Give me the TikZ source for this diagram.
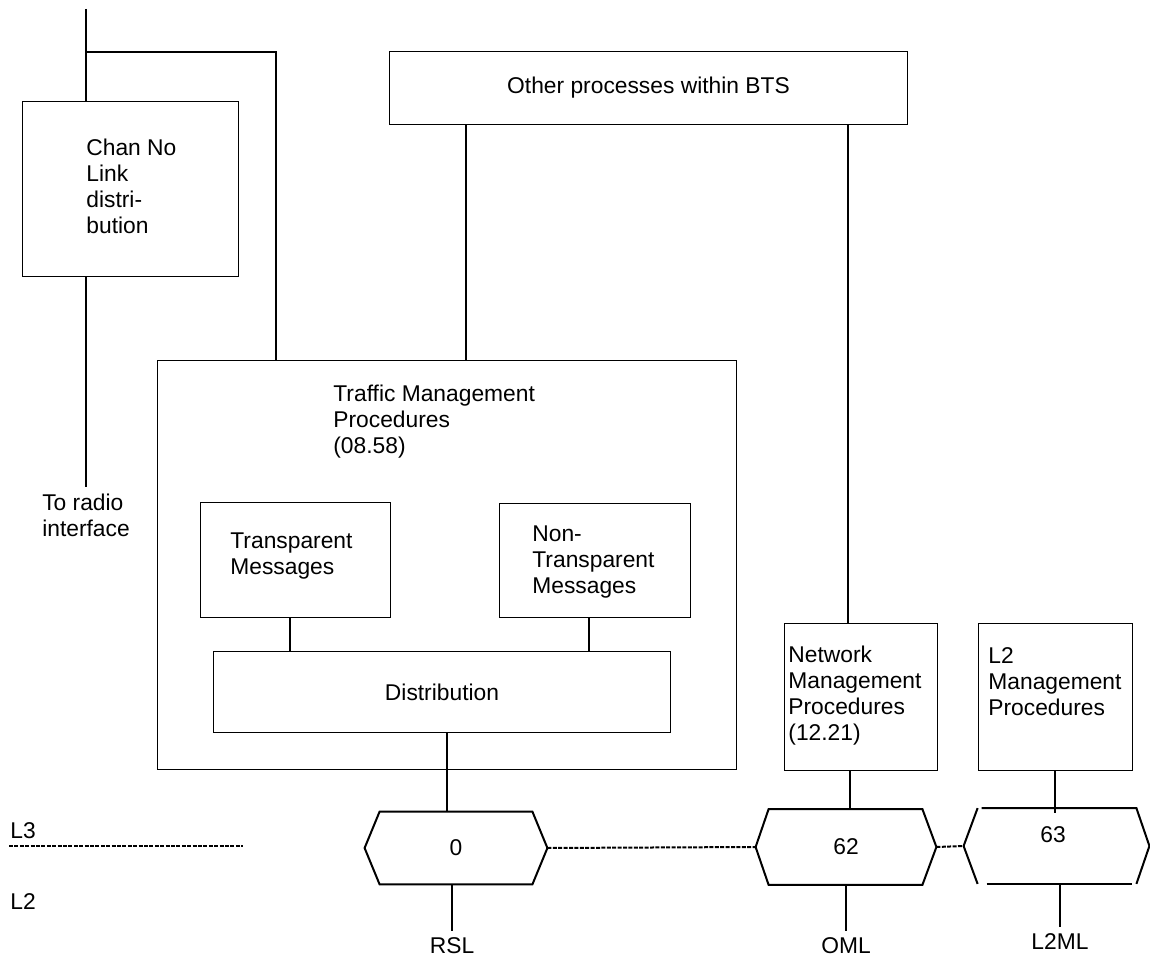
\documentclass[tikz,border=0pt]{standalone}
\usepackage{fontspec}
\setmainfont{Liberation Sans}
\begin{document}
\begin{tikzpicture}[x=0.5pt, y=-0.5pt,
  every node/.style = {font=\fontsize{11.4}{13}\selectfont},
  box/.style = {draw, rectangle, line width=0.5pt, inner sep=0pt, anchor=north west},
  txt/.style = {align=left, inner sep=0pt, anchor=north west},
  tag/.style = {align=left, anchor=north},
  hexa/.style = {inner sep=0pt},
  wire/.style = {line width=1pt},
  layer/.style = {line width=1pt, dash pattern=on 2pt off 0.7pt}]
\useasboundingbox (0,0) rectangle (1150,956);
% boxes
\node [box, minimum width=108pt, minimum height=87.5pt] (chan) at (22,101) {};
\node [txt] (chantxt) at (86,139) {Chan No\\Link\\distri-\\bution};
\node [box, minimum width=259pt, minimum height=36.5pt] (other) at (389,51) {Other processes within BTS};
\node [box, minimum width=289.5pt, minimum height=204.5pt] (tmp) at (157,360) {};
\node [txt] (tmptxt) at (333,385) {Traffic Management\\Procedures\\(08.58)};
\node [box, minimum width=95pt, minimum height=57.5pt] (trans) at (200,502) {};
\node [txt] (transtxt) at (230,532) {Transparent\\Messages};
\node [box, minimum width=95.5pt, minimum height=57pt] (nontrans) at (499,503) {};
\node [txt] (nontranstxt) at (532,525) {Non-\\Transparent\\Messages};
\node [box, minimum width=228.5pt, minimum height=40.5pt] (dist) at (213,651) {Distribution};
\node [box, minimum width=76.5pt, minimum height=73.5pt] (net) at (784,623) {};
\node [txt] (nettxt) at (788,646) {Network\\Management\\Procedures\\(12.21)};
\node [box, minimum width=77pt, minimum height=73.5pt] (l2m) at (978,623) {};
\node [txt] (l2mtxt) at (988,647) {L2\\Management\\Procedures};
% link end points
\node [hexa, minimum width=91pt, minimum height=36pt] (hex0) at (456,848) {0};
\node [hexa, minimum width=90pt, minimum height=37.5pt] (hex62) at (846,847) {62};
\node [hexa, minimum width=92.5pt, minimum height=37.5pt] (hex63) at (1056.5,846) {};
\node (num63) at (1053,835) {63};
% labels
\node [txt] (l3) at (10,822) {L3};
\node [txt] (l2) at (10,893) {L2};
\node [tag] (radio) at (86,487) {To radio\\interface};
\node [tag] (rsl) at (452,931) {RSL};
\node [tag] (oml) at (846,931) {OML};
\node [tag] (l2ml) at (1060,927) {L2ML};
% columns of the wires
\coordinate (top) at (86,9);
\coordinate (bend) at (276,52);
\coordinate (ca) at (466,0);
\coordinate (cb) at (848,0);
\coordinate (cc) at (290,0);
\coordinate (cd) at (589,0);
\coordinate (ce) at (447,0);
\coordinate (cf) at (452,0);
\coordinate (cg) at (850,0);
\coordinate (ch) at (846,0);
\coordinate (ci) at (1055,0);
\coordinate (cj) at (1060,0);
\coordinate (l3a) at (9,846);
\coordinate (l3b) at (243,846);
% hexagons
\draw [wire] ([xshift=7.5pt]hex0.north west) -- ([xshift=-7.5pt]hex0.north east) -- (hex0.east)
  -- ([xshift=-7.5pt]hex0.south east) -- ([xshift=7.5pt]hex0.south west) -- (hex0.west) -- cycle;
\draw [wire] ([xshift=6.5pt]hex62.north west) -- ([xshift=-7pt]hex62.north east) -- (hex62.east)
  -- ([xshift=-7pt]hex62.south east) -- ([xshift=6.5pt]hex62.south west) -- (hex62.west) -- cycle;
\draw [wire] ([xshift=7pt]hex63.north west) -- (hex63.west) -- ([xshift=7pt]hex63.south west);
\draw [wire] ([xshift=9pt]hex63.north west) -- ([xshift=-6.5pt]hex63.north east) -- (hex63.east)
  -- ([xshift=-6.5pt]hex63.south east);
\draw [wire] ([xshift=11.5pt]hex63.south west) -- ([xshift=-8.5pt]hex63.south east);
% wires
\draw [wire] (top) -- (top |- chan.north);
\draw [wire] (top |- bend) -- (bend) -- (bend |- tmp.north);
\draw [wire] (top |- chan.south) -- (top |- radio.north);
\draw [wire] (ca |- other.south) -- (ca |- tmp.north);
\draw [wire] (cb |- other.south) -- (cb |- net.north);
\draw [wire] (cc |- trans.south) -- (cc |- dist.north);
\draw [wire] (cd |- nontrans.south) -- (cd |- dist.north);
\draw [wire] (ce |- dist.south) -- (ce |- hex0.north);
\draw [wire] (cf |- hex0.south) -- (cf |- rsl.north);
\draw [wire] (cg |- net.south) -- (cg |- hex62.north);
\draw [wire] (ch |- hex62.south) -- (ch |- oml.north);
\draw [wire] (ci |- l2m.south) -- (ci |- hex63.north) -- ++(0,5);
\draw [wire] (cj |- hex63.south) -- (cj |- l2ml.north);
% layer border
\draw [layer] (l3a) -- (l3b);
\draw [layer] (hex0.east) -- (hex62.west);
\draw [layer] (hex62.east) -- (hex63.west);
\end{tikzpicture}
\end{document}
